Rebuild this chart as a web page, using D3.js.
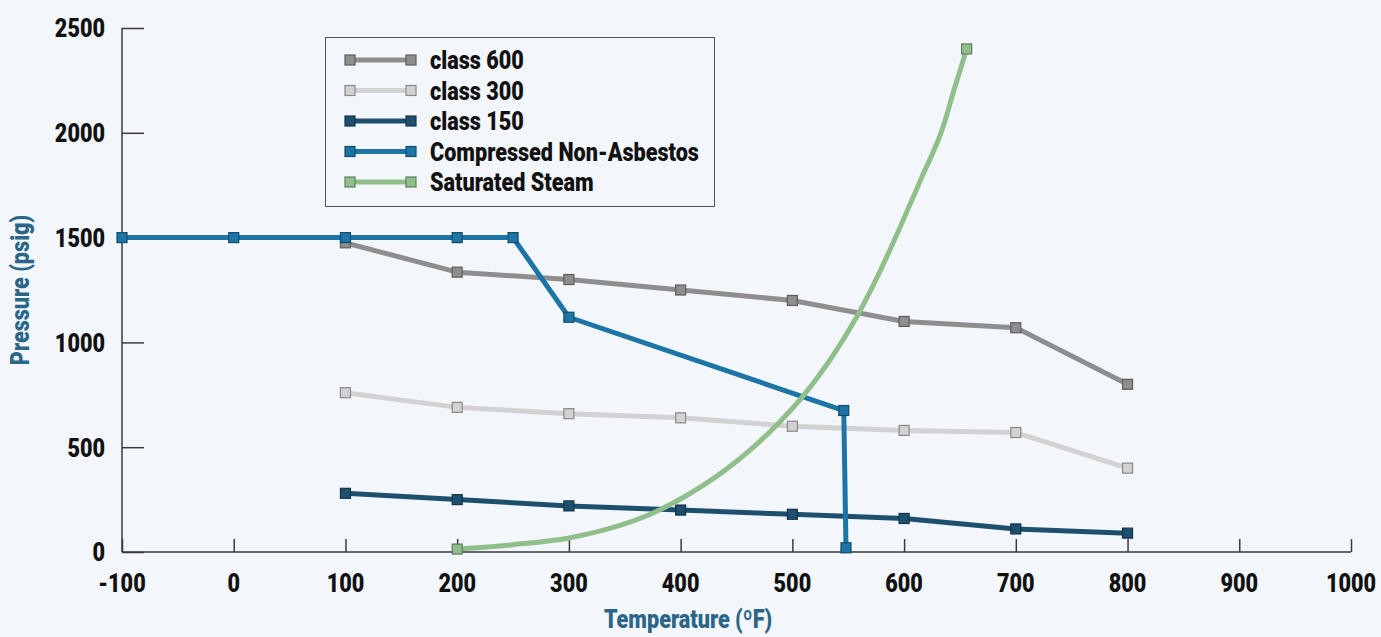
<!DOCTYPE html>
<html>
<head>
<meta charset="utf-8">
<script src="https://cdn.jsdelivr.net/npm/d3@7"></script>
<style>
  html, body { margin: 0; padding: 0; background: #f3f6fa; }
  svg { display: block; }
  text { font-family: "Roboto", "Liberation Sans", sans-serif; font-weight: 900; }
</style>
</head>
<body>
<svg id="chart" width="1381" height="637"></svg>
<script>
// ---- data ----
const xTicks = [-100, 0, 100, 200, 300, 400, 500, 600, 700, 800, 900, 1000];
const yTicks = [0, 500, 1000, 1500, 2000, 2500];

const class600T = [100, 200, 300, 400, 500, 600, 700, 800];
const class600P = [1475, 1335, 1300, 1250, 1200, 1100, 1070, 800];

const class300T = [100, 200, 300, 400, 500, 600, 700, 800];
const class300P = [760, 690, 660, 640, 600, 580, 570, 400];

const class150T = [100, 200, 300, 400, 500, 600, 700, 800];
const class150P = [280, 250, 220, 200, 180, 160, 110, 90];

const cnaT = [-100, 0, 100, 200, 250, 300, 546, 548];
const cnaP = [1500, 1500, 1500, 1500, 1500, 1120, 675, 20];

const steamT = [200, 250, 300, 381, 486, 509, 558, 616, 635, 645, 656];
const steamP = [14, 35, 67, 200, 606, 740, 1126, 1790, 2030, 2210, 2400];

const seriesNames = ["class 600", "class 300", "class 150", "Compressed Non-Asbestos", "Saturated Steam"];
const seriesColors = ["#8e8e8e", "#d2d2d2", "#1f4f6f", "#1c75a6", "#91bf8c"];

// ---- layout ----
const svg = d3.select("#chart");
const x = d3.scaleLinear().domain([-100, 1000]).range([122, 1351]);
const y = d3.scaleLinear().domain([0, 2500]).range([552, 28]);
const axisColor = "#3a3a3a";
const FS = 26;

// measure to emulate a condensed bold face
const probe = svg.append("text").attr("font-size", FS).text("Compressed Non-Asbestos");
const SX = 269 / probe.node().getComputedTextLength();
probe.remove();

function label(parent, tx, ty, str, anchor, color, rot) {
  const g = parent.append("g")
    .attr("transform", `translate(${tx},${ty})` + (rot ? ` rotate(${rot})` : "") + ` scale(${SX},1)`);
  g.append("text").attr("text-anchor", anchor).attr("dy", "0.36em")
    .attr("font-size", FS).attr("fill", color).text(str);
  return g;
}

// y axis
const yAxis = svg.append("g").attr("transform", "translate(122,0)")
  .call(d3.axisRight(y).tickValues(yTicks).tickSize(22).tickFormat(""));
yAxis.select(".domain").attr("stroke", axisColor).attr("stroke-width", 1.5).attr("d", "M0,28V552");
yAxis.selectAll(".tick line").attr("stroke", axisColor).attr("stroke-width", 1.5);
const yl = svg.append("g");
yTicks.forEach(d => label(yl, 105, y(d), d, "end", "#111"));

// x axis
const xAxis = svg.append("g").attr("transform", "translate(0,552)")
  .call(d3.axisTop(x).tickValues(xTicks).tickSize(13).tickFormat(""));
xAxis.select(".domain").attr("stroke", axisColor).attr("stroke-width", 1.5).attr("d", "M122,0H1351");
xAxis.selectAll(".tick line").attr("stroke", axisColor).attr("stroke-width", 1.5);
const xl = svg.append("g");
xTicks.forEach(d => label(xl, x(d), 583, d, "middle", "#111"));

// axis titles
label(svg, 688, 619, "Temperature (ºF)", "middle", "#2b6688");
label(svg, 20, 290, "Pressure (psig)", "middle", "#2b6688", -90);

// ---- series ----
const series = [
  { T: class600T, P: class600P, curve: d3.curveLinear, allMarkers: true },
  { T: class300T, P: class300P, curve: d3.curveLinear, allMarkers: true },
  { T: class150T, P: class150P, curve: d3.curveLinear, allMarkers: true },
  { T: cnaT, P: cnaP, curve: d3.curveLinear, allMarkers: true },
  { T: steamT, P: steamP, curve: d3.curveMonotoneX, allMarkers: false }
];

const markerStroke = c => d3.color(c).darker(1.2).formatHex();

series.forEach((s, i) => {
  const pts = s.T.map((t, j) => [t, s.P[j]]);
  const line = d3.line().x(d => x(d[0])).y(d => y(d[1])).curve(s.curve);
  const g = svg.append("g");
  g.append("path").attr("d", line(pts)).attr("fill", "none")
    .attr("stroke", seriesColors[i]).attr("stroke-width", 5).attr("stroke-linejoin", "round");
  const mk = s.allMarkers ? pts : [pts[0], pts[pts.length - 1]];
  g.selectAll("rect").data(mk).join("rect")
    .attr("x", d => x(d[0]) - 5).attr("y", d => y(d[1]) - 5)
    .attr("width", 10).attr("height", 10)
    .attr("fill", seriesColors[i]).attr("stroke", markerStroke(seriesColors[i])).attr("stroke-width", 1.2);
});

// ---- legend ----
const lg = svg.append("g");
lg.append("rect").attr("x", 325.5).attr("y", 37.5).attr("width", 389).attr("height", 169)
  .attr("fill", "#f3f6fa").attr("stroke", "#555").attr("stroke-width", 1);
seriesNames.forEach((name, i) => {
  const ly = 60 + i * 30.5;
  lg.append("line").attr("x1", 350).attr("x2", 411).attr("y1", ly).attr("y2", ly)
    .attr("stroke", seriesColors[i]).attr("stroke-width", 5);
  [350, 411].forEach(cx => {
    lg.append("rect").attr("x", cx - 5).attr("y", ly - 5).attr("width", 10).attr("height", 10)
      .attr("fill", seriesColors[i]).attr("stroke", markerStroke(seriesColors[i])).attr("stroke-width", 1.2);
  });
  label(lg, 430, ly, name, "start", "#111");
});
</script>
</body>
</html>
